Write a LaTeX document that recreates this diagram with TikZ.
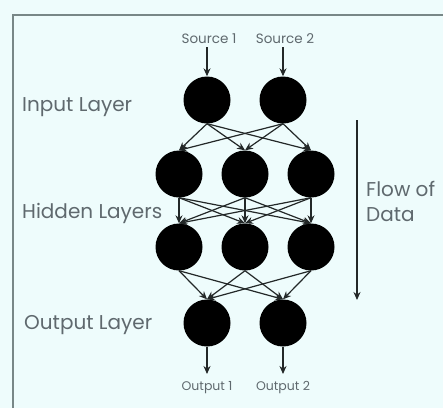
\documentclass[tikz,border=0pt]{standalone}
\usepackage{fontspec}
\setmainfont{Poppins}
\usetikzlibrary{arrows.meta}
\definecolor{bg}{RGB}{238,252,252}
\definecolor{frame}{RGB}{120,135,135}
\definecolor{txt}{RGB}{95,105,110}
\definecolor{edge}{RGB}{35,40,40}
\begin{document}
\begin{tikzpicture}[x=1pt,y=-1pt,
  neuron/.style={circle,fill=black,minimum size=47pt,inner sep=0pt},
  conn/.style={draw=edge,line width=1.2pt,-{Stealth[length=8pt,width=7pt]}},
  lab/.style={text=txt,font=\fontsize{20}{24}\selectfont,anchor=west,inner sep=0pt},
  small/.style={text=txt,font=\fontsize{13.5}{15}\selectfont,inner sep=0pt}]
\fill[bg] (0,0) rectangle (443,408);
\useasboundingbox (0,0) rectangle (443,408);
\draw[frame,line width=1.2pt] (13,408) -- (13,15) -- (443,15);
% nodes
\node[neuron] (i1) at (207,100) {};
\node[neuron] (i2) at (283,100) {};
\node[neuron] (a1) at (179,174) {};
\node[neuron] (a2) at (245,174) {};
\node[neuron] (a3) at (311,174) {};
\node[neuron] (b1) at (179,247) {};
\node[neuron] (b2) at (245,247) {};
\node[neuron] (b3) at (311,247) {};
\node[neuron] (o1) at (207,323) {};
\node[neuron] (o2) at (283,323) {};
% source / output labels
\node[small] (s1) at (209,39) {Source 1};
\node[small] (s2) at (285,39) {Source 2};
\node[small,font=\fontsize{12.5}{14}\selectfont] (q1) at (207,388) {Output 1};
\node[small,font=\fontsize{12.5}{14}\selectfont] (q2) at (283,388) {Output 2};
\coordinate (s1b) at (207,47);
\coordinate (s2b) at (283,47);
\coordinate (q1t) at (207,374);
\coordinate (q2t) at (283,374);
\draw[conn] (s1b) -- (i1.north);
\draw[conn] (s2b) -- (i2.north);
\draw[conn] (o1.south) -- (q1t);
\draw[conn] (o2.south) -- (q2t);
% connections
\foreach \s in {i1,i2}
  \foreach \t in {a1,a2,a3}
    \draw[conn] (\s.south) -- (\t.north);
\foreach \s in {a1,a2,a3}
  \foreach \t in {b1,b2,b3}
    \draw[conn] (\s.south) -- (\t.north);
\foreach \s in {b1,b2,b3}
  \foreach \t in {o1,o2}
    \draw[conn] (\s.south) -- (\t.north);
% layer labels
\node[lab] (li) at (22,107) {Input Layer};
\node[lab] (lh) at (22,213) {Hidden Layers};
\node[lab] (lo) at (24,325) {Output Layer};
% flow arrow
\coordinate (f1) at (357,120);
\coordinate (f2) at (357,300);
\draw[conn,line width=1.4pt] (f1) -- (f2);
\node[lab,align=left,font=\fontsize{20}{25}\selectfont] (fl) at (366,201) {Flow of\\Data};
\end{tikzpicture}
\end{document}
